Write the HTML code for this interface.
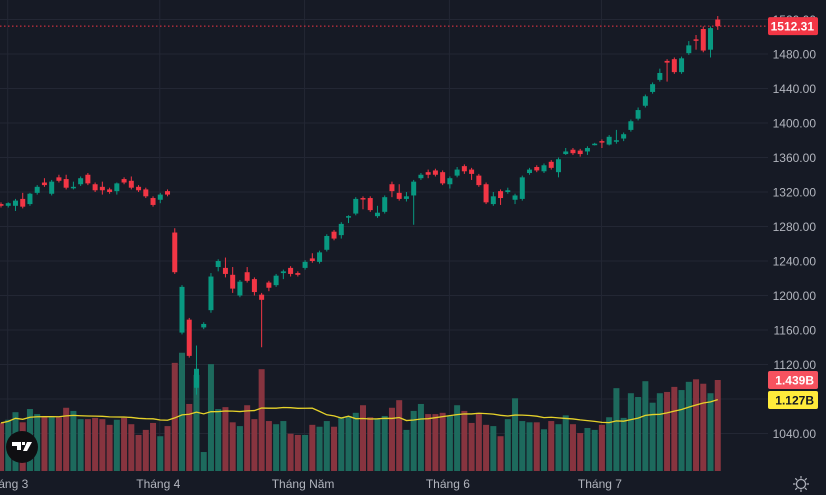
<!DOCTYPE html>
<html><head><meta charset="utf-8"><style>
body{margin:0;background:#161a25;overflow:hidden}
svg{display:block;font-family:"Liberation Sans",sans-serif}
</style></head><body>
<svg id="c" width="826" height="495">
<rect width="826" height="495" fill="#161a25"/>
<g id="grid"></g>
<g id="vol"></g>
<g id="ma"></g>
<g id="candles"></g>
<g id="axis"></g>
<g id="xaxis"></g>
</svg>
<script>
const opens =[1306,1304,1304,1312,1306,1319,1331,1318,1337,1335,1325,1329,1340,1329,1326,1323,1321,1335,1333,1326,1323,1313,1311,1321,1273,1157,1172,1093,1163,1183,1233,1232,1224,1200,1227,1219,1201,1215,1212,1226,1232,1226,1232,1243,1239,1253,1274,1270,1291,1295,1313,1313,1292,1297,1329,1319,1312,1316,1336,1343,1345,1343,1329,1339,1350,1346,1339,1329,1306,1321,1320,1311,1312,1342,1349,1344,1355,1343,1364,1369,1368,1367,1375,1379,1375,1379,1382,1392,1405,1420,1436,1450,1472,1474,1459,1481,1497,1509,1485,1520];
const highs =[1308,1308,1312,1319,1319,1328,1336,1334,1340,1340,1332,1338,1342,1331,1332,1325,1331,1337,1338,1328,1325,1315,1319,1323,1278,1212,1174,1142,1169,1226,1242,1244,1233,1218,1233,1221,1203,1217,1225,1230,1234,1228,1241,1249,1252,1271,1276,1285,1293,1314,1315,1315,1304,1316,1332,1329,1320,1334,1342,1346,1347,1345,1338,1349,1352,1348,1341,1331,1320,1323,1325,1318,1339,1348,1351,1353,1357,1360,1371,1371,1370,1373,1377,1381,1386,1392,1389,1404,1418,1433,1447,1463,1474,1476,1477,1495,1502,1512,1512,1524];
const lows  =[1302,1302,1298,1301,1304,1317,1326,1316,1331,1323,1323,1327,1328,1320,1317,1318,1317,1329,1323,1320,1313,1303,1307,1315,1225,1155,1128,1085,1161,1180,1228,1221,1203,1198,1215,1200,1140,1205,1210,1219,1222,1222,1230,1238,1237,1251,1264,1266,1284,1293,1300,1297,1290,1295,1314,1310,1309,1282,1334,1336,1338,1328,1324,1337,1341,1334,1326,1306,1304,1305,1318,1306,1310,1340,1343,1342,1346,1337,1363,1363,1361,1363,1374,1371,1374,1376,1379,1390,1403,1418,1434,1448,1448,1457,1457,1479,1485,1482,1476,1508];
const closes=[1304,1307,1310,1303,1318,1326,1328,1332,1333,1325,1326,1336,1330,1322,1322,1320,1330,1331,1325,1322,1315,1305,1317,1317,1227,1210,1130,1115,1167,1222,1240,1225,1208,1216,1217,1204,1195,1209,1223,1228,1225,1224,1239,1240,1250,1269,1266,1283,1292,1312,1312,1299,1296,1314,1321,1312,1315,1332,1340,1340,1340,1330,1336,1346,1344,1341,1328,1308,1315,1313,1322,1316,1337,1346,1345,1351,1348,1358,1367,1365,1364,1371,1376,1378,1384,1380,1387,1402,1415,1431,1445,1458,1470,1459,1475,1490,1496,1484,1510,1512.31];
const volumes=[0.76,0.81,0.93,0.77,0.98,0.90,0.87,0.85,0.85,1.00,0.95,0.82,0.82,0.84,0.82,0.73,0.81,0.84,0.74,0.57,0.65,0.76,0.55,0.71,1.71,1.87,1.06,1.52,0.30,1.69,0.98,1.01,0.77,0.71,1.04,0.82,1.61,0.79,0.74,0.79,0.59,0.57,0.57,0.73,0.70,0.79,0.70,0.85,0.87,0.92,1.04,0.85,0.82,0.87,1.00,1.12,0.65,0.95,1.06,0.90,0.90,0.92,0.87,1.04,0.95,0.76,0.92,0.73,0.71,0.55,0.82,1.15,0.79,0.77,0.77,0.66,0.79,0.74,0.88,0.74,0.60,0.68,0.65,0.73,0.85,1.31,0.84,1.23,1.17,1.42,1.08,1.23,1.25,1.33,1.28,1.41,1.45,1.38,1.23,1.439];
const priceTicks=[1520,1480,1440,1400,1360,1320,1280,1240,1200,1160,1120,1080,1040];
const monthLabels=["Tháng 3","Tháng 4","Tháng Năm","Tháng 6","Tháng 7"];
const monthIdx=[1,22,42,62,83];
const lastPrice="1512.31", lastVol="1.439B", maVal="1.127B";

const NS="http://www.w3.org/2000/svg";
const plotW=768, step=7.24, x0=1;
const xs=i=>x0+i*step;
const ys=p=>54+(1480-p)*0.8625;
const vBase=471, vScale=91/1.439;
const yv=v=>vBase-v*vScale;
function mk(tag,attrs,parent){const e=document.createElementNS(NS,tag);for(const k in attrs)e.setAttribute(k,attrs[k]);parent.appendChild(e);return e;}
const G=id=>document.getElementById(id);

// grid
priceTicks.forEach(p=>{const l=mk('line',{x1:0,x2:plotW,y1:ys(p),y2:ys(p),stroke:'#232734','stroke-width':1},G('grid'));

});
monthIdx.forEach(i=>{const l=mk('line',{x1:xs(i)-0.5,x2:xs(i)-0.5,y1:0,y2:471,stroke:'#232734','stroke-width':1},G('grid'));

});

// volume
volumes.forEach((v,i)=>{const up=closes[i]>=opens[i];
const r=mk('rect',{x:xs(i)-3,y:yv(v),width:6,height:vBase-yv(v),fill:up?'#1d6a5d':'#87343f'},G('vol'));

});
// MA (20)
let pts=[];
volumes.forEach((v,i)=>{const s=Math.max(0,i-19);let sum=0;for(let k=s;k<=i;k++)sum+=volumes[k];pts.push(xs(i)+','+yv(sum/(i-s+1)));});
const pl=mk('polyline',{points:pts.join(' '),fill:'none',stroke:'#e6d22a','stroke-width':1.3},G('ma'));



// candles
opens.forEach((o,i)=>{const c=closes[i],up=c>=o,col=up?'#089981':'#f23645';
const g=mk('g',{},G('candles'));


mk('line',{x1:xs(i),x2:xs(i),y1:ys(highs[i]),y2:ys(lows[i]),stroke:col,'stroke-width':1},g);
const t=ys(Math.max(o,c)),b=ys(Math.min(o,c));
mk('rect',{x:xs(i)-2.5,y:t,width:5,height:Math.max(1.5,b-t),fill:col},g);});

// last price line
const lp=mk('line',{x1:0,x2:plotW,y1:ys(+lastPrice),y2:ys(+lastPrice),stroke:'#f23645','stroke-width':1,'stroke-dasharray':'1.5 2.5'},G('axis'));



// axis labels
priceTicks.forEach(p=>{if(p===1080)return;const t=mk('text',{x:816,y:ys(p)+4.5,'text-anchor':'end','font-size':12,fill:'#b2b5be'},G('axis'));t.textContent=p.toFixed(2);

});
function tag(y,bg,fg,txt,name){const g=mk('g',{},G('axis'));


mk('rect',{x:768,y:y-9,width:50,height:18,rx:2,fill:bg},g);
const t=mk('text',{x:814,y:y+4.5,'text-anchor':'end','font-size':12,'font-weight':'bold',fill:fg},g);t.textContent=txt;}
tag(ys(+lastPrice),'#f23645','#fff',lastPrice,'last-price-label');
tag(yv(1.439),'#f7525f','#fff',lastVol,'last-volume-label');
tag(400,'#ffeb3b','#131722',maVal,'volume-ma-label');

// time axis
monthLabels.forEach((m,i)=>{const t=mk('text',{x:xs(monthIdx[i])-2,y:488,'text-anchor':'middle','font-size':12,fill:'#b2b5be'},G('xaxis'));t.textContent=m;

});
</script>
<svg style="position:absolute;left:0;top:0" width="826" height="495">
<g><circle cx="22" cy="447" r="16" fill="#0f0f12"/>
<path d="M12 442h9v8h-4v-4h-5z M22 442h3v3h-3z M27 442h5l-5 9h-4z" fill="#fff"/></g>
<g fill="none" stroke="#b2b5be" stroke-width="1.2"><circle cx="801" cy="484" r="4.5"/>
<path d="M801 476v2.5M801 489.5v2.5M793 484h2.5M806.5 484h2.5M795.3 478.3l1.8 1.8M804.9 487.9l1.8 1.8M795.3 489.7l1.8-1.8M804.9 480.1l1.8-1.8"/></g>
</svg>
</body></html>
